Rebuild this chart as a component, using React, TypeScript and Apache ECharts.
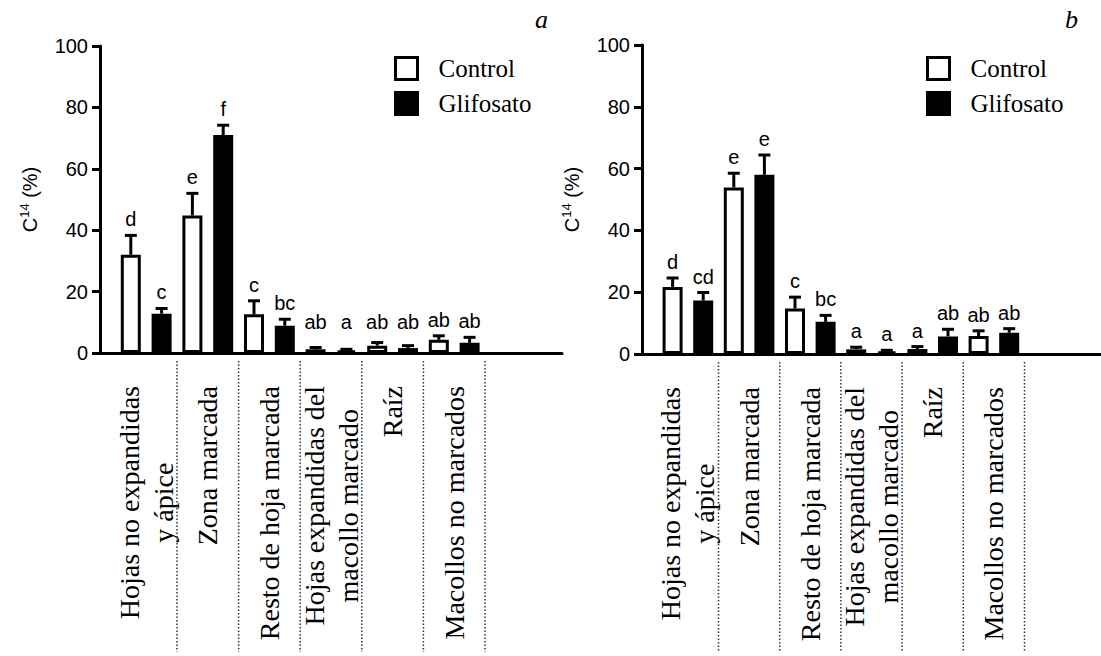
import React, { useEffect, useRef } from 'react';
import * as echarts from 'echarts';

// ---- data ----
const categories: string[][] = [
  ['Hojas no expandidas', 'y ápice'],
  ['Zona marcada'],
  ['Resto de hoja marcada'],
  ['Hojas expandidas del', 'macollo marcado'],
  ['Raíz'],
  ['Macollos no marcados'],
];
const seriesNames = ['Control', 'Glifosato'];
const yTicks = [0, 20, 40, 60, 80, 100];

// panel a
const controlA = [32, 44.8, 12.6, 1.2, 2.4, 4.3];
const controlErrA = [6.3, 7.2, 4.4, 0.6, 1.0, 1.3];
const glifosatoA = [12.8, 71, 8.9, 0.8, 1.6, 3.3];
const glifosatoErrA = [1.7, 3.2, 2.1, 0.4, 0.8, 1.8];
const controlLettersA = ['d', 'e', 'c', 'ab', 'ab', 'ab'];
const glifosatoLettersA = ['c', 'f', 'bc', 'a', 'ab', 'ab'];

// panel b
const controlB = [21.7, 53.9, 14.7, 1.5, 1.6, 5.8];
const controlErrB = [2.9, 4.6, 3.7, 0.7, 0.8, 1.7];
const glifosatoB = [17.3, 58, 10.4, 0.8, 5.7, 6.9];
const glifosatoErrB = [2.6, 6.4, 2.1, 0.4, 2.3, 1.3];
const controlLettersB = ['d', 'e', 'c', 'a', 'a', 'ab'];
const glifosatoLettersB = ['cd', 'e', 'bc', 'a', 'ab', 'ab'];

const SERIF = "'Liberation Serif', 'Times New Roman', serif";
const SANS = "'Liberation Sans', Arial, sans-serif";

type Panel = {
  id: string;
  control: number[];
  controlErr: number[];
  glif: number[];
  glifErr: number[];
  controlLetters: string[];
  glifLetters: string[];
  grid: { left: number; top: number; width: number; height: number };
  legendPos: { left: number; top: number };
  titleLeft: number;
  labelFloor: number;
};

const panels: Panel[] = [
  {
    id: 'a',
    control: controlA,
    controlErr: controlErrA,
    glif: glifosatoA,
    glifErr: glifosatoErrA,
    controlLetters: controlLettersA,
    glifLetters: glifosatoLettersA,
    grid: { left: 100, top: 46, width: 462, height: 307 },
    legendPos: { left: 389, top: 51 },
    titleLeft: 535,
    labelFloor: 5,
  },
  {
    id: 'b',
    control: controlB,
    controlErr: controlErrB,
    glif: glifosatoB,
    glifErr: glifosatoErrB,
    controlLetters: controlLettersB,
    glifLetters: glifosatoLettersB,
    grid: { left: 642, top: 45, width: 462, height: 309 },
    legendPos: { left: 921, top: 51 },
    titleLeft: 1065,
    labelFloor: 0,
  },
];

function buildOption() {
  const grid: any[] = [];
  const xAxis: any[] = [];
  const yAxis: any[] = [];
  const series: any[] = [];
  const legend: any[] = [];
  const title: any[] = [];

  panels.forEach((p, idx) => {
    grid.push({ ...p.grid, containLabel: false });
    xAxis.push({
      gridIndex: idx,
      type: 'value',
      min: 0,
      max: 15,
      interval: 0.5,
      axisLine: { show: true, onZero: false, lineStyle: { color: '#000', width: 3 } },
      axisTick: { show: false },
      splitLine: { show: false },
      axisLabel: {
        rotate: 90,
        margin: 33,
        color: '#000',
        formatter: (v: number) => {
          const k = (v - 1.5) / 2;
          const r = Math.round(k);
          if (Math.abs(k - r) > 1e-6 || r < 0 || r >= categories.length) return '';
          return categories[r].map((l) => `{c|${l}}`).join('\n');
        },
        rich: {
          c: { fontFamily: SERIF, fontSize: 28, lineHeight: 34, align: 'center', color: '#000' },
        },
      },
    });
    yAxis.push({
      gridIndex: idx,
      type: 'value',
      min: yTicks[0],
      max: yTicks[yTicks.length - 1],
      interval: yTicks[1] - yTicks[0],
      axisLine: { show: true, lineStyle: { color: '#000', width: 3 } },
      axisTick: { show: true, length: 8, lineStyle: { color: '#000', width: 3 } },
      axisLabel: { color: '#000', fontSize: 20, fontFamily: SANS, margin: 12 },
      splitLine: { show: false },
      name: '{c|C}{s|14}{c| (%)}',
      nameLocation: 'middle',
      nameGap: 58,
      nameTextStyle: {
        rich: {
          c: { fontFamily: SANS, fontSize: 20, lineHeight: 24, color: '#000' },
          s: { fontFamily: SANS, fontSize: 13, lineHeight: 14, verticalAlign: 'top', color: '#000' },
        },
      },
    });

    const ctrlData = p.control.map((v, k) => [2 * k + 1, v]);
    const glifData = p.glif.map((v, k) => [2 * k + 2, v]);
    series.push({
      type: 'bar',
      name: seriesNames[0],
      xAxisIndex: idx,
      yAxisIndex: idx,
      data: ctrlData,
      barWidth: 20,
      barGap: '-100%',
      itemStyle: { color: '#fff', borderColor: '#000', borderWidth: 3 },
      z: 2,
    });
    series.push({
      type: 'bar',
      name: seriesNames[1],
      xAxisIndex: idx,
      yAxisIndex: idx,
      data: glifData,
      barWidth: 20,
      barGap: '-100%',
      itemStyle: { color: '#000', borderColor: '#000', borderWidth: 3 },
      z: 2,
    });

    const errData = [
      ...p.control.map((v, k) => [2 * k + 1, v, v + p.controlErr[k]]),
      ...p.glif.map((v, k) => [2 * k + 2, v, v + p.glifErr[k]]),
    ];
    const letters = [...p.controlLetters, ...p.glifLetters];
    const floor = p.labelFloor;
    series.push({
      type: 'custom',
      xAxisIndex: idx,
      yAxisIndex: idx,
      data: errData,
      encode: { x: 0, y: [1, 2] },
      silent: true,
      clip: false,
      z: 3,
      renderItem: (params: any, api: any) => {
        const x = api.value(0);
        const v = api.value(1);
        const e = api.value(2);
        const pb = api.coord([x, v]);
        const pt = api.coord([x, e]);
        const pl = api.coord([x, Math.max(e, floor)]);
        return {
          type: 'group',
          children: [
            { type: 'line', shape: { x1: pb[0], y1: pb[1], x2: pt[0], y2: pt[1] }, style: { stroke: '#000', lineWidth: 3 } },
            { type: 'line', shape: { x1: pt[0] - 6, y1: pt[1], x2: pt[0] + 6, y2: pt[1] }, style: { stroke: '#000', lineWidth: 3 } },
            {
              type: 'text',
              style: {
                text: letters[params.dataIndex],
                x: pl[0],
                y: pl[1] - 6,
                align: 'center',
                verticalAlign: 'bottom',
                fontSize: 20,
                fontFamily: SANS,
                fill: '#000',
              },
            },
          ],
        };
      },
    });

    series.push({
      type: 'custom',
      xAxisIndex: idx,
      yAxisIndex: idx,
      data: categories.map((_, k) => [2 * k + 2.5, 0]),
      encode: { x: 0, y: 1 },
      silent: true,
      clip: false,
      renderItem: (_params: any, api: any) => {
        const pt = api.coord([api.value(0), 0]);
        return {
          type: 'line',
          shape: { x1: pt[0], y1: pt[1] + 8, x2: pt[0], y2: api.getHeight() - 4 },
          style: { stroke: '#333', lineWidth: 1.5, lineDash: [1.5, 2] },
        };
      },
    });

    legend.push({
      left: p.legendPos.left,
      top: p.legendPos.top,
      orient: 'vertical',
      icon: 'rect',
      itemWidth: 22,
      itemHeight: 22,
      itemGap: 10,
      selectedMode: false,
      data: seriesNames,
      itemStyle: { borderWidth: 3, borderColor: '#000' },
      textStyle: { fontFamily: SERIF, fontSize: 25, color: '#000', padding: [0, 0, 0, 16] },
    });

    title.push({
      text: p.id,
      left: p.titleLeft,
      top: 6,
      padding: 0,
      textStyle: { fontFamily: SERIF, fontStyle: 'italic', fontWeight: 'normal', fontSize: 26, color: '#000' },
    });
  });

  return {
    animation: false,
    backgroundColor: '#fff',
    title,
    legend,
    grid,
    xAxis,
    yAxis,
    series,
  };
}

export default function App() {
  const ref = useRef<HTMLDivElement>(null);
  useEffect(() => {
    document.body.style.margin = '0';
    if (!ref.current) return;
    const chart = echarts.init(ref.current, undefined, { renderer: 'svg' });
    chart.setOption(buildOption() as any);
    return () => chart.dispose();
  }, []);
  return <div ref={ref} style={{ width: 1101, height: 656 }} />;
}
